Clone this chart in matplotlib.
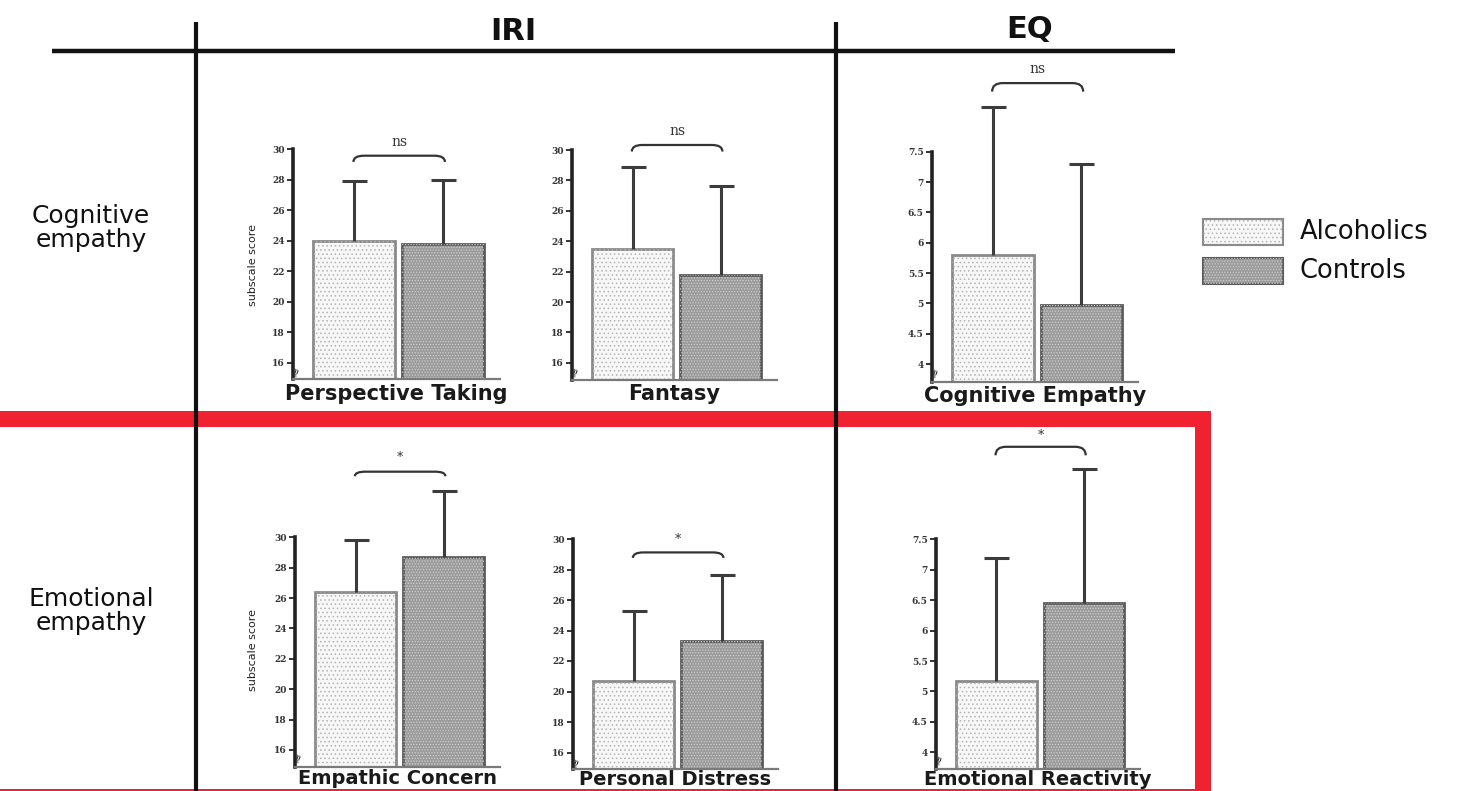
import matplotlib
matplotlib.use("Agg")
import matplotlib.pyplot as plt
from matplotlib.patches import Rectangle, PathPatch
from matplotlib.path import Path

# ---------------- data ----------------
categories = ["Perspective Taking", "Fantasy", "Cognitive Empathy",
              "Empathic Concern", "Personal Distress", "Emotional Reactivity"]
groups = ["Alcoholics", "Controls"]
alc_mean = [24.0, 23.5, 5.80, 26.4, 20.7, 5.17]
alc_err = [3.9, 5.35, 2.43, 3.45, 4.55, 2.03]
ctl_mean = [23.8, 21.8, 4.97, 28.7, 23.3, 6.46]
ctl_err = [4.2, 5.85, 2.33, 4.35, 4.35, 2.20]
significance = ["ns", "ns", "ns", "*", "*", "*"]
iri_ticks = [16, 18, 20, 22, 24, 26, 28, 30]
eq_ticks = [4, 4.5, 5, 5.5, 6, 6.5, 7, 7.5]
column_titles = ["IRI", "EQ"]
row_titles = ["Cognitive\nempathy", "Emotional\nempathy"]

# ---------------- layout ----------------
W, H = 1470, 791
fig = plt.figure(figsize=(W / 100, H / 100), dpi=100)
plt.rcParams['hatch.linewidth'] = 0.6

panels = [
    dict(left=293, right=500, vref=30, pref=149.3, unit=15.24, ymin=14.9, ymax=31.6, scale="iri",
         br=(29.17, 29.58), txt=30.5, ylabel=True, lab_y=265, pad=3, fs=15),
    dict(left=572, right=777, vref=30, pref=150.0, unit=15.2, ymin=14.9, ymax=31.8, scale="iri",
         br=(29.9, 30.33), txt=31.25, ylabel=False, pad=3, fs=15),
    dict(left=932, right=1138, vref=7.5, pref=151.7, unit=60.7, ymin=3.71, ymax=9.0, scale="eq",
         br=(8.49, 8.63), txt=8.86, ylabel=False, pad=3, fs=15),
    dict(left=295, right=500, vref=30, pref=537.3, unit=15.19, ymin=14.86, ymax=35.8, scale="iri",
         br=(34.02, 34.32), txt=35.25, ylabel=True, lab_y=650, pad=1.2, fs=14),
    dict(left=573, right=778, vref=30, pref=539.0, unit=15.25, ymin=14.9, ymax=30.6, scale="iri",
         br=(28.76, 29.12), txt=29.95, ylabel=False, pad=0.6, fs=14),
    dict(left=936, right=1140, vref=7.5, pref=539.3, unit=60.86, ymin=3.72, ymax=9.35, scale="eq",
         br=(8.88, 9.02), txt=9.2, ylabel=False, pad=0.5, fs=14),
]

alc_face, alc_hatch, alc_edge = "#f7f7f7", "#b4b4b4", "#8a8a8a"
ctl_face, ctl_hatch, ctl_edge = "#9b9b9b", "#cdcdcd", "#5a5a5a"
err_col = "#3c3c3c"
xs = [0, 1]
bw = 0.92


def draw_bar(ax, x, h, face, hatch, hcol, edge):
    ax.bar(x, h, bw, bottom=0, color=face, edgecolor=edge, linewidth=2, zorder=2)
    ax.bar(x, h, bw, bottom=0, fill=False, hatch=hatch, edgecolor=hcol, linewidth=0, zorder=2.1)


for i, p in enumerate(panels):
    bottom_px = p["pref"] + (p["vref"] - p["ymin"]) * p["unit"]
    top_px = p["pref"] - (p["ymax"] - p["vref"]) * p["unit"]
    ax = fig.add_axes([p["left"] / W, 1 - bottom_px / H,
                       (p["right"] - p["left"]) / W, (bottom_px - top_px) / H])
    ax.set_xlim(-0.69, 1.64)
    ax.set_ylim(p["ymin"], p["ymax"])
    ax.patch.set_visible(False)

    draw_bar(ax, xs[0], alc_mean[i], alc_face, "....", alc_hatch, alc_edge)
    draw_bar(ax, xs[1], ctl_mean[i], ctl_face, "......", ctl_hatch, ctl_edge)
    eb = ax.errorbar(xs, [alc_mean[i], ctl_mean[i]],
                     yerr=[[0, 0], [alc_err[i], ctl_err[i]]],
                     fmt="none", ecolor=err_col, elinewidth=2.2, capsize=9, capthick=2.2,
                     zorder=3)
    caps = eb[1]
    if len(caps) == 2:
        caps[0].set_visible(False)   # one-sided (upper) error bars only

    # significance bracket
    y0, y1 = p["br"]
    x1, x2, r = -0.01, 1.02, 0.12
    verts = [(x1, y0), (x1, y1), (x1 + r, y1), (x2 - r, y1), (x2, y1), (x2, y0)]
    codes = [Path.MOVETO, Path.CURVE3, Path.CURVE3, Path.LINETO, Path.CURVE3, Path.CURVE3]
    ax.add_patch(PathPatch(Path(verts, codes), fill=False, lw=1.6, edgecolor="#333333",
                           clip_on=False))
    ax.text((x1 + x2) / 2, p["txt"], significance[i], ha="center", va="center",
            fontsize=10 if significance[i] == "ns" else 9, family="DejaVu Serif",
            color="#333333")

    # axes styling
    for s in ("top", "right"):
        ax.spines[s].set_visible(False)
    ax.spines["left"].set_linewidth(2.6)
    ax.spines["left"].set_color("#222222")
    ax.spines["bottom"].set_linewidth(1.6)
    ax.spines["bottom"].set_color("#7a7a7a")
    ticks = iri_ticks if p["scale"] == "iri" else eq_ticks
    ax.spines["left"].set_bounds(p["ymin"], ticks[-1])
    ax.set_yticks(ticks)
    ax.set_yticklabels([f"{t:g}" for t in ticks], fontsize=6.5, fontweight="bold",
                       family="DejaVu Serif", color="#333333")
    ax.tick_params(axis="y", direction="out", length=4, width=1.4, pad=2, colors="#333333")
    ax.set_xticks([])
    ax.set_xlabel(categories[i], fontsize=p["fs"], fontweight="bold", color="#1a1a1a",
                  labelpad=p["pad"])
    if p["ylabel"]:
        ax.set_ylabel("subscale score", fontsize=8, color="#222222")
        ax.yaxis.set_label_coords((258 - p["left"]) / (p["right"] - p["left"]),
                                  (bottom_px - p["lab_y"]) / (bottom_px - top_px))
    # axis break mark
    ax.text(0.012, p["ymin"] + 0.03 * (p["ymax"] - p["ymin"]), "≈", rotation=70,
            fontsize=9, ha="center", va="center", color="#222222", zorder=4,
            transform=ax.get_yaxis_transform(), clip_on=False)

# ---------------- overlay: grid lines, titles, legend, red frame ----------------
ov = fig.add_axes([0, 0, 1, 1], zorder=5)
ov.set_xlim(0, W)
ov.set_ylim(H, 0)
ov.axis("off")
ov.patch.set_visible(False)

ov.plot([52, 1175], [51, 51], color="#111111", lw=3.2, solid_capstyle="butt")
ov.plot([196, 196], [22, H], color="#111111", lw=3.0, solid_capstyle="butt")
ov.plot([836, 836], [22, H], color="#111111", lw=3.0, solid_capstyle="butt")

ov.text(513, 31, column_titles[0], fontsize=22, fontweight="bold", ha="center", va="center",
        color="#111111")
ov.text(1030, 29, column_titles[1], fontsize=22, fontweight="bold", ha="center", va="center",
        color="#111111")
ov.text(91, 228, row_titles[0], fontsize=18, ha="center", va="center", linespacing=1.0,
        color="#111111")
ov.text(91, 611, row_titles[1], fontsize=18, ha="center", va="center", linespacing=1.0,
        color="#111111")

# legend
legend_y = [219, 258]
legend_style = [(alc_face, "....", alc_hatch, alc_edge), (ctl_face, "......", ctl_hatch, ctl_edge)]
for (face, hatch, hcol, edge), yy, name in zip(legend_style, legend_y, groups):
    ov.add_patch(Rectangle((1203, yy), 80, 26, facecolor=face, edgecolor=edge, lw=1.5))
    ov.add_patch(Rectangle((1203, yy), 80, 26, fill=False, hatch=hatch, edgecolor=hcol, lw=0))
    ov.text(1300, yy + 13, name, fontsize=18.5, ha="left", va="center", color="#111111")

# red highlight frame
red = "#f02131"
ov.add_patch(Rectangle((0, 410.5), 1211, 16.5, facecolor=red, edgecolor="none"))
ov.add_patch(Rectangle((1195, 410.5), 16, H - 410.5, facecolor=red, edgecolor="none"))
ov.add_patch(Rectangle((0, 788.5), 1211, 2.5, facecolor=red, edgecolor="none"))

fig.savefig("out.png", dpi=100)
